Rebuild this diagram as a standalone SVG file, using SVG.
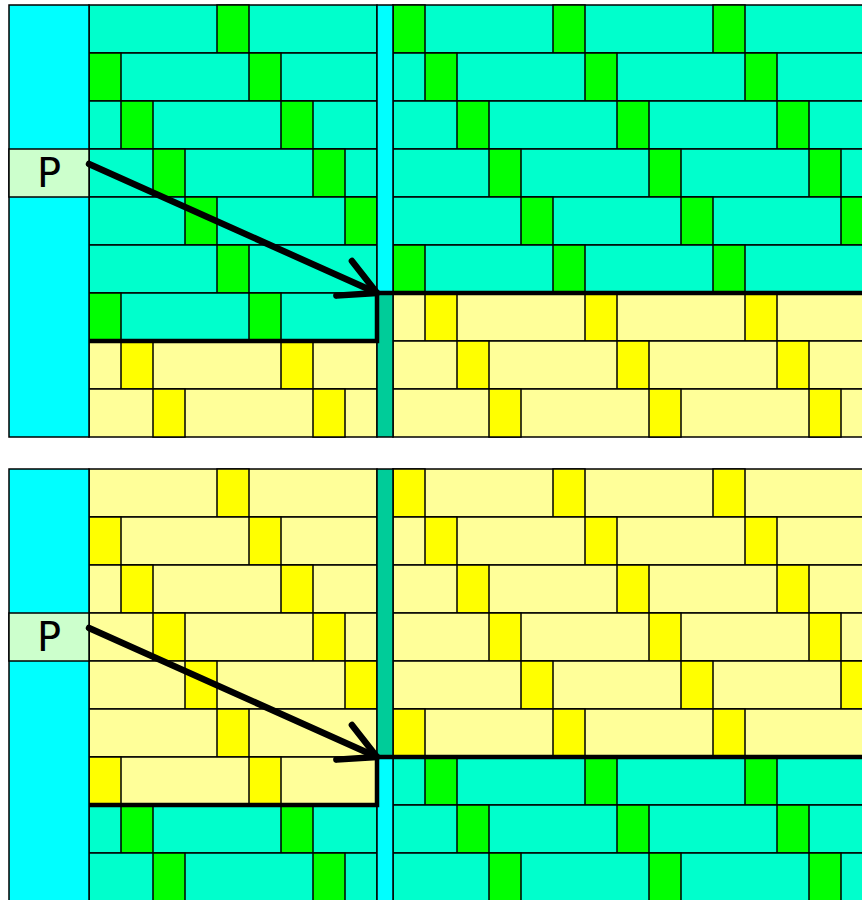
<svg xmlns="http://www.w3.org/2000/svg" width="862" height="900" viewBox="0 0 862 900">
<style>
.b{stroke:#000;stroke-width:1.5}
.t{fill:#00FFCC}.g{fill:#00FF00}.y{fill:#FFFF99}.Y{fill:#FFFF00}
.c{fill:#00FFFF}.d{fill:#00CC99}.p{fill:#CCFFCC}
.thick{fill:none;stroke:#000;stroke-width:4.5;stroke-linejoin:miter}
.arr{fill:none;stroke:#000;stroke-width:6.5;stroke-linecap:round;marker-end:url(#ah)}
text{font-family:"DejaVu Sans","Liberation Sans",sans-serif;font-size:40px;fill:#000}
</style>
<defs>
<marker id="ah" markerUnits="userSpaceOnUse" refX="0" refY="0" orient="auto" overflow="visible" markerWidth="10" markerHeight="10">
<path d="M-36,-19 L0,0 L-36,19" fill="none" stroke="#000" stroke-width="6.5" stroke-linecap="round" stroke-linejoin="round"/>
</marker>
</defs>
<rect width="862" height="900" fill="#fff"/>
<g id="top-panel" class="b">
<g id="top-left-bricks">
<rect class="t" x="89" y="5" width="288" height="48"/><rect class="g" x="217" y="5" width="32" height="48"/>
<rect class="t" x="89" y="53" width="288" height="48"/><rect class="g" x="89" y="53" width="32" height="48"/><rect class="g" x="249" y="53" width="32" height="48"/>
<rect class="t" x="89" y="101" width="288" height="48"/><rect class="g" x="121" y="101" width="32" height="48"/><rect class="g" x="281" y="101" width="32" height="48"/>
<rect class="t" x="89" y="149" width="288" height="48"/><rect class="g" x="153" y="149" width="32" height="48"/><rect class="g" x="313" y="149" width="32" height="48"/>
<rect class="t" x="89" y="197" width="288" height="48"/><rect class="g" x="185" y="197" width="32" height="48"/><rect class="g" x="345" y="197" width="32" height="48"/>
<rect class="t" x="89" y="245" width="288" height="48"/><rect class="g" x="217" y="245" width="32" height="48"/>
<rect class="t" x="89" y="293" width="288" height="48"/><rect class="g" x="89" y="293" width="32" height="48"/><rect class="g" x="249" y="293" width="32" height="48"/>
<rect class="y" x="89" y="341" width="288" height="48"/><rect class="Y" x="121" y="341" width="32" height="48"/><rect class="Y" x="281" y="341" width="32" height="48"/>
<rect class="y" x="89" y="389" width="288" height="48"/><rect class="Y" x="153" y="389" width="32" height="48"/><rect class="Y" x="313" y="389" width="32" height="48"/>
</g>
<g id="top-right-bricks">
<rect class="t" x="393" y="5" width="480" height="48"/><rect class="g" x="393" y="5" width="32" height="48"/><rect class="g" x="553" y="5" width="32" height="48"/><rect class="g" x="713" y="5" width="32" height="48"/>
<rect class="t" x="393" y="53" width="480" height="48"/><rect class="g" x="425" y="53" width="32" height="48"/><rect class="g" x="585" y="53" width="32" height="48"/><rect class="g" x="745" y="53" width="32" height="48"/>
<rect class="t" x="393" y="101" width="480" height="48"/><rect class="g" x="457" y="101" width="32" height="48"/><rect class="g" x="617" y="101" width="32" height="48"/><rect class="g" x="777" y="101" width="32" height="48"/>
<rect class="t" x="393" y="149" width="480" height="48"/><rect class="g" x="489" y="149" width="32" height="48"/><rect class="g" x="649" y="149" width="32" height="48"/><rect class="g" x="809" y="149" width="32" height="48"/>
<rect class="t" x="393" y="197" width="480" height="48"/><rect class="g" x="521" y="197" width="32" height="48"/><rect class="g" x="681" y="197" width="32" height="48"/><rect class="g" x="841" y="197" width="32" height="48"/>
<rect class="t" x="393" y="245" width="480" height="48"/><rect class="g" x="393" y="245" width="32" height="48"/><rect class="g" x="553" y="245" width="32" height="48"/><rect class="g" x="713" y="245" width="32" height="48"/>
<rect class="y" x="393" y="293" width="480" height="48"/><rect class="Y" x="425" y="293" width="32" height="48"/><rect class="Y" x="585" y="293" width="32" height="48"/><rect class="Y" x="745" y="293" width="32" height="48"/>
<rect class="y" x="393" y="341" width="480" height="48"/><rect class="Y" x="457" y="341" width="32" height="48"/><rect class="Y" x="617" y="341" width="32" height="48"/><rect class="Y" x="777" y="341" width="32" height="48"/>
<rect class="y" x="393" y="389" width="480" height="48"/><rect class="Y" x="489" y="389" width="32" height="48"/><rect class="Y" x="649" y="389" width="32" height="48"/><rect class="Y" x="809" y="389" width="32" height="48"/>
</g>
<g id="top-strip">
<rect class="c" x="377" y="5" width="16" height="288"/>
<rect class="d" x="377" y="293" width="16" height="144"/>
</g>
<g id="top-column">
<rect class="c" x="9" y="5" width="80" height="432"/>
</g>
<g id="top-P">
<rect class="p" x="9" y="149" width="80" height="48"/>
<text x="49" y="187" text-anchor="middle" stroke="none">P</text>
</g>
</g>
<g id="bottom-panel" class="b">
<g id="bottom-left-bricks">
<rect class="y" x="89" y="469" width="288" height="48"/><rect class="Y" x="217" y="469" width="32" height="48"/>
<rect class="y" x="89" y="517" width="288" height="48"/><rect class="Y" x="89" y="517" width="32" height="48"/><rect class="Y" x="249" y="517" width="32" height="48"/>
<rect class="y" x="89" y="565" width="288" height="48"/><rect class="Y" x="121" y="565" width="32" height="48"/><rect class="Y" x="281" y="565" width="32" height="48"/>
<rect class="y" x="89" y="613" width="288" height="48"/><rect class="Y" x="153" y="613" width="32" height="48"/><rect class="Y" x="313" y="613" width="32" height="48"/>
<rect class="y" x="89" y="661" width="288" height="48"/><rect class="Y" x="185" y="661" width="32" height="48"/><rect class="Y" x="345" y="661" width="32" height="48"/>
<rect class="y" x="89" y="709" width="288" height="48"/><rect class="Y" x="217" y="709" width="32" height="48"/>
<rect class="y" x="89" y="757" width="288" height="48"/><rect class="Y" x="89" y="757" width="32" height="48"/><rect class="Y" x="249" y="757" width="32" height="48"/>
<rect class="t" x="89" y="805" width="288" height="48"/><rect class="g" x="121" y="805" width="32" height="48"/><rect class="g" x="281" y="805" width="32" height="48"/>
<rect class="t" x="89" y="853" width="288" height="48"/><rect class="g" x="153" y="853" width="32" height="48"/><rect class="g" x="313" y="853" width="32" height="48"/>
</g>
<g id="bottom-right-bricks">
<rect class="y" x="393" y="469" width="480" height="48"/><rect class="Y" x="393" y="469" width="32" height="48"/><rect class="Y" x="553" y="469" width="32" height="48"/><rect class="Y" x="713" y="469" width="32" height="48"/>
<rect class="y" x="393" y="517" width="480" height="48"/><rect class="Y" x="425" y="517" width="32" height="48"/><rect class="Y" x="585" y="517" width="32" height="48"/><rect class="Y" x="745" y="517" width="32" height="48"/>
<rect class="y" x="393" y="565" width="480" height="48"/><rect class="Y" x="457" y="565" width="32" height="48"/><rect class="Y" x="617" y="565" width="32" height="48"/><rect class="Y" x="777" y="565" width="32" height="48"/>
<rect class="y" x="393" y="613" width="480" height="48"/><rect class="Y" x="489" y="613" width="32" height="48"/><rect class="Y" x="649" y="613" width="32" height="48"/><rect class="Y" x="809" y="613" width="32" height="48"/>
<rect class="y" x="393" y="661" width="480" height="48"/><rect class="Y" x="521" y="661" width="32" height="48"/><rect class="Y" x="681" y="661" width="32" height="48"/><rect class="Y" x="841" y="661" width="32" height="48"/>
<rect class="y" x="393" y="709" width="480" height="48"/><rect class="Y" x="393" y="709" width="32" height="48"/><rect class="Y" x="553" y="709" width="32" height="48"/><rect class="Y" x="713" y="709" width="32" height="48"/>
<rect class="t" x="393" y="757" width="480" height="48"/><rect class="g" x="425" y="757" width="32" height="48"/><rect class="g" x="585" y="757" width="32" height="48"/><rect class="g" x="745" y="757" width="32" height="48"/>
<rect class="t" x="393" y="805" width="480" height="48"/><rect class="g" x="457" y="805" width="32" height="48"/><rect class="g" x="617" y="805" width="32" height="48"/><rect class="g" x="777" y="805" width="32" height="48"/>
<rect class="t" x="393" y="853" width="480" height="48"/><rect class="g" x="489" y="853" width="32" height="48"/><rect class="g" x="649" y="853" width="32" height="48"/><rect class="g" x="809" y="853" width="32" height="48"/>
</g>
<g id="bottom-strip">
<rect class="d" x="377" y="469" width="16" height="288"/>
<rect class="c" x="377" y="757" width="16" height="144"/>
</g>
<g id="bottom-column">
<rect class="c" x="9" y="469" width="80" height="432"/>
</g>
<g id="bottom-P">
<rect class="p" x="9" y="613" width="80" height="48"/>
<text x="49" y="651" text-anchor="middle" stroke="none">P</text>
</g>
</g>
<g id="connectors">
<path class="thick" d="M89,341 H377 V293 H870"/>
<path class="arr" d="M89,164 L377,293"/>
<path class="thick" d="M89,805 H377 V757 H870"/>
<path class="arr" d="M89,628 L377,757"/>
</g>
</svg>
